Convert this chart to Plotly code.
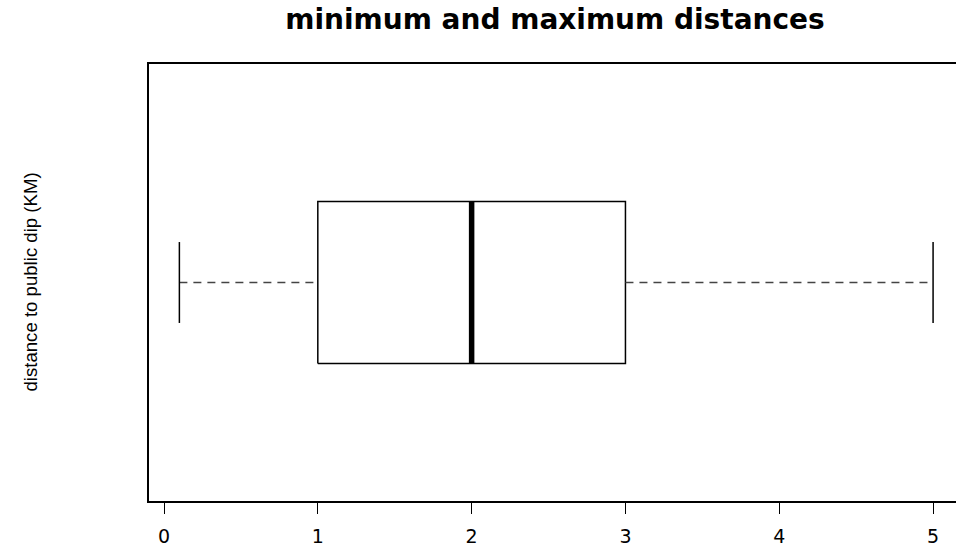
import plotly.graph_objects as go

# ---- data ----
groups = ["distance to public dip (KM)"]
minimum = [0.1]
q1 = [1.0]
median = [2.0]
q3 = [3.0]
maximum = [5.0]
x_ticks = [0, 1, 2, 3, 4, 5]
x_tick_labels = ["0", "1", "2", "3", "4", "5"]

title_text = "minimum and maximum distances"
y_label = groups[0]

# ---- style constants ----
pos = 1.0
half_box = 0.2
half_cap = 0.1
black = "#000000"

fig = go.Figure()
for i in range(len(groups)):
    p = pos + i
    # box
    fig.add_trace(go.Scatter(
        x=[q1[i], q3[i], q3[i], q1[i], q1[i]],
        y=[p - half_box, p - half_box, p + half_box, p + half_box, p - half_box],
        mode="lines", fill="toself", fillcolor="white",
        line=dict(color=black, width=1.5), hoverinfo="skip", showlegend=False))
    # whiskers
    fig.add_trace(go.Scatter(
        x=[minimum[i], q1[i]], y=[p, p], mode="lines",
        line=dict(color="#444444", width=1.5, dash="8px,6px"),
        hoverinfo="skip", showlegend=False))
    fig.add_trace(go.Scatter(
        x=[q3[i], maximum[i]], y=[p, p], mode="lines",
        line=dict(color="#444444", width=1.5, dash="8px,6px"),
        hoverinfo="skip", showlegend=False))
    # caps
    for v in (minimum[i], maximum[i]):
        fig.add_trace(go.Scatter(
            x=[v, v], y=[p - half_cap, p + half_cap], mode="lines",
            line=dict(color=black, width=1.5), hoverinfo="skip", showlegend=False))
    # median
    fig.add_trace(go.Scatter(
        x=[median[i], median[i]], y=[p - half_box, p + half_box], mode="lines",
        line=dict(color=black, width=5.5), hoverinfo="skip", showlegend=False))

W, H = 956, 547
ml, mr, mt, mb = 149, 0, 64, 46

fig.update_layout(
    width=W, height=H,
    margin=dict(l=ml, r=mr, t=mt, b=mb, pad=0),
    paper_bgcolor="white", plot_bgcolor="white",
    title=dict(text=title_text, x=555 / W, xref="container", xanchor="center",
               y=1 - 19 / H, yref="container", yanchor="middle",
               font=dict(family="DejaVu Sans", size=28, color=black, weight="bold")),
    xaxis=dict(range=[-0.0975, 5.149], tickvals=x_ticks, ticktext=x_tick_labels,
               ticks="outside", ticklen=11, tickwidth=1.2, tickcolor=black,
               ticklabelstandoff=6,
               showline=True, linecolor=black, linewidth=1.5, mirror=True,
               showgrid=False, zeroline=False,
               tickfont=dict(family="DejaVu Sans", size=19, color=black)),
    yaxis=dict(range=[0.46, 1.54], showline=True, linecolor=black, linewidth=1.5,
               mirror=False, showticklabels=False, ticks="",
               showgrid=False, zeroline=False),
    annotations=[dict(text=y_label, textangle=-90, showarrow=False,
                      xref="paper", yref="paper", x=(30 - ml) / (W - ml - mr), y=0.5,
                      xanchor="center", yanchor="middle",
                      font=dict(family="Liberation Sans", size=18.6, color=black))],
)

fig.write_html("out.html", config={"displayModeBar": False},
               post_script="document.body.style.margin='0';document.body.style.overflow='hidden';")
